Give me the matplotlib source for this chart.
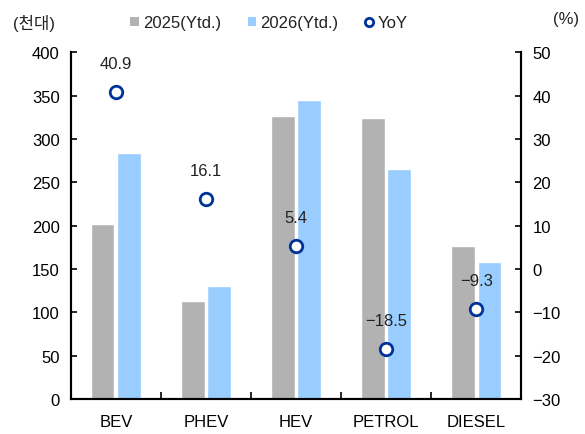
import numpy as np
import matplotlib
matplotlib.use("Agg")
import matplotlib.pyplot as plt
from matplotlib.lines import Line2D
from matplotlib.patches import Patch

plt.rcParams['font.family'] = ['Liberation Sans', 'Noto Sans CJK KR']
plt.rcParams['font.size'] = 12
plt.rcParams['text.color'] = '#222222'

categories = ["BEV", "PHEV", "HEV", "PETROL", "DIESEL"]
sales_2025 = [202, 113, 326, 324, 177]
sales_2026 = [284, 130, 345, 265, 158]
yoy = [40.9, 16.1, 5.4, -18.5, -9.3]

gray = "#B2B2B2"
blue = "#99CCFF"
navy = "#003399"

x = np.arange(len(categories))
w = 0.26

fig = plt.figure(figsize=(5.85, 4.35), dpi=100)
ax = fig.add_axes([0.121, 0.0805, 0.770, 0.797])
ax2 = ax.twinx()

ax.bar(x - 0.145, sales_2025, width=w, color=gray, edgecolor="white", linewidth=1)
ax.bar(x + 0.145, sales_2026, width=w, color=blue, edgecolor="white", linewidth=1)

ax2.plot(x, yoy, "o", markersize=9, markerfacecolor="white",
         markeredgecolor=navy, markeredgewidth=2, zorder=5)
for xi, v in zip(x, yoy):
    ax2.annotate(f"{v:.1f}".replace("-", "\u2212"), (xi, v), xytext=(0, 15),
                 textcoords="offset points", ha="center", va="bottom", fontsize=12)

ax.set_xlim(-0.5, len(categories) - 0.5)
ax.set_ylim(0, 400)
ax.set_yticks(np.arange(0, 401, 50))
ax2.set_ylim(-30, 50)
ax2.set_yticks(np.arange(-30, 51, 10))

ax.set_xticks(x)
ax.set_xticklabels(categories)
ax.set_xticks(np.arange(-0.5, len(categories), 1), minor=True)
ax.tick_params(axis="x", which="major", length=0, pad=11)
ax.tick_params(axis="x", which="minor", direction="in", length=5, width=1.2)
ax.tick_params(axis="y", direction="in", length=4, width=1.2, pad=8)
ax2.tick_params(axis="y", direction="in", length=4, width=1.2, pad=8)

for a in (ax, ax2):
    a.spines["top"].set_visible(False)
    for s in ("left", "right", "bottom"):
        a.spines[s].set_linewidth(1.5)

handles = [
    Patch(facecolor=gray, edgecolor="none"),
    Patch(facecolor=blue, edgecolor="none"),
    Line2D([], [], marker="o", linestyle="none", markersize=6,
           markerfacecolor="white", markeredgecolor=navy, markeredgewidth=2),
]
fig.legend(handles, ["2025(Ytd.)", "2026(Ytd.)", "YoY"], loc="center",
           bbox_to_anchor=(0.46, 0.945), ncol=3, frameon=False,
           handlelength=0.5, handleheight=0.5, handletextpad=0.25,
           columnspacing=1.6, fontsize=12)

fig.text(0.022, 0.945, "(천대)", ha="left", va="center", fontsize=12)
fig.text(0.99, 0.955, "(%)", ha="right", va="center", fontsize=12)

fig.savefig("out.png", dpi=100)
